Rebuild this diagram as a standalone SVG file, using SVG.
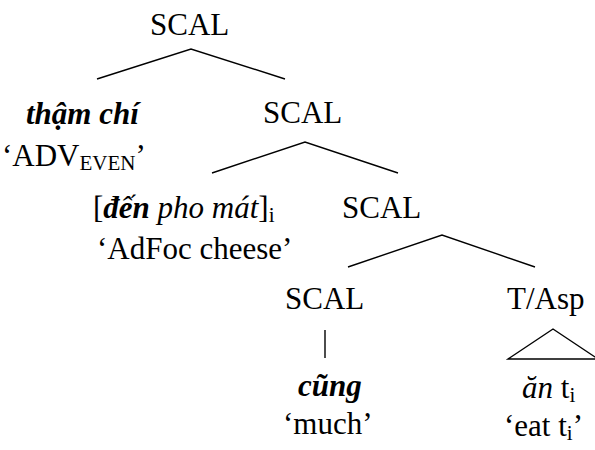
<svg xmlns="http://www.w3.org/2000/svg" width="595" height="450" viewBox="0 0 595 450">
<style>
text{font-family:"Liberation Serif","Times New Roman",serif;font-size:31px;fill:#000}
.bi{font-weight:bold;font-style:italic}
.i{font-style:italic}
.sub{font-size:21px}
.e line,.e polyline,.e polygon{stroke:#000;stroke-width:1.4;fill:none}
</style>
<rect width="595" height="450" fill="#fff"/>
<g id="connectors" class="e">
<polyline points="97,79 191,49 285,79"/>
<polyline points="212,173 305,142 398,173"/>
<polyline points="348,267 442,235 535,267"/>
<line x1="325" y1="330" x2="325" y2="358"/>
<polygon points="508,359 553,329 598,359"/>
</g>
<g id="n1"><text x="150" y="35">SCAL</text></g>
<g id="n2"><text x="26" y="124" class="bi">thậm chí</text><text x="2" y="166">‘ADV<tspan class="sub" dy="4">EVEN</tspan><tspan dy="-4">’</tspan></text></g>
<g id="n3"><text x="263" y="123">SCAL</text></g>
<g id="n4"><text x="93" y="218">[<tspan class="bi">đến</tspan> <tspan class="i">pho mát</tspan>]<tspan class="sub" dy="4">i</tspan></text><text x="97" y="259">‘AdFoc cheese’</text></g>
<g id="n5"><text x="342" y="218">SCAL</text></g>
<g id="n6"><text x="285" y="309">SCAL</text><text x="298" y="396" class="bi">cũng</text><text x="283" y="434">‘much’</text></g>
<g id="n7"><text x="507" y="309">T/Asp</text><text x="522" y="398"><tspan class="i">ăn</tspan> t<tspan class="sub" dy="4">i</tspan></text><text x="504" y="436">‘eat t<tspan class="sub" dy="4">i</tspan><tspan dy="-4">’</tspan></text></g>
</svg>
